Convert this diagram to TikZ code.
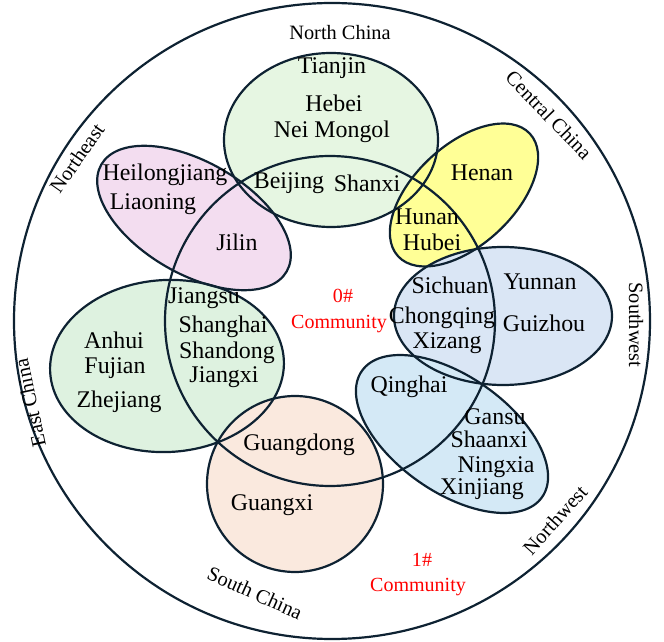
\documentclass[tikz,border=0pt]{standalone}
\usepackage{fontspec}
\setmainfont{Liberation Serif}

\definecolor{rim}{RGB}{14,34,50}
\definecolor{northfill}{RGB}{230,246,226}
\definecolor{eastfill}{RGB}{222,242,224}
\definecolor{nefill}{RGB}{243,221,240}
\definecolor{centralfill}{RGB}{255,255,150}
\definecolor{swfill}{RGB}{218,230,245}
\definecolor{nwfill}{RGB}{212,233,246}
\definecolor{southfill}{RGB}{250,233,222}

\begin{document}
\begin{tikzpicture}[
  x=0.02cm, y=-0.02cm,
  rimline/.style={
    draw=rim,
    line width=1.25pt
  },
  prov/.style={
    inner sep=0pt,
    font=\fontsize{13.6}{16}\selectfont
  },
  zonelabel/.style={
    inner sep=0pt,
    font=\fontsize{11.6}{13}\selectfont
  },
  commlabel/.style={
    inner sep=0pt,
    text=red,
    font=\fontsize{11.4}{13}\selectfont
  }
]

\path[use as bounding box] (0,0) rectangle (664,642);

% centres of the regions
\coordinate (outer) at (332,321);
\coordinate (core) at (330,321);
\coordinate (north) at (331,140);
\coordinate (northeast) at (194,218);
\coordinate (central) at (464,195);
\coordinate (southwest) at (503,316);
\coordinate (northwest) at (452,434);
\coordinate (south) at (295,484);
\coordinate (east) at (167,366);

% fills
\fill[northfill] (north) ellipse (107 and 87);
\fill[eastfill, rotate around={3:(east)}] (east) ellipse (117 and 86);
\fill[nefill, rotate around={-30:(northeast)}] (northeast) ellipse (107 and 56);
\fill[centralfill, rotate around={43:(central)}] (central) ellipse (90 and 50);
\fill[swfill] (southwest) ellipse (109 and 69);
\fill[nwfill, rotate around={-35:(northwest)}] (northwest) ellipse (110 and 58);
\fill[southfill] (south) circle (88);

% outlines
\draw[rimline] (outer) circle (318);
\draw[rimline] (north) ellipse (107 and 87);
\draw[rimline, rotate around={3:(east)}] (east) ellipse (117 and 86);
\draw[rimline, rotate around={-30:(northeast)}] (northeast) ellipse (107 and 56);
\draw[rimline, rotate around={43:(central)}] (central) ellipse (90 and 50);
\draw[rimline] (southwest) ellipse (109 and 69);
\draw[rimline, rotate around={-35:(northwest)}] (northwest) ellipse (110 and 58);
\draw[rimline] (south) circle (88);
\draw[rimline] (core) circle (165);

% provinces
\node[prov] (tianjin) at (332,68) {Tianjin};
\node[prov] (hebei) at (334,103) {Hebei};
\node[prov] (neimongol) at (332,132) {Nei Mongol};
\node[prov] (beijing) at (289,183) {Beijing};
\node[prov] (shanxi) at (367,183) {Shanxi};

\node[prov] (heilongjiang) at (165,175) {Heilongjiang};
\node[prov] (liaoning) at (153,204) {Liaoning};
\node[prov] (jilin) at (237,242) {Jilin};

\node[prov] (henan) at (482,173) {Henan};
\node[prov] (hunan) at (427,217) {Hunan};
\node[prov] (hubei) at (432,242) {Hubei};

\node[prov] (sichuan) at (450,285) {Sichuan};
\node[prov] (chongqing) at (442,318) {Chongqing};
\node[prov] (xizang) at (447,343) {Xizang};
\node[prov] (yunnan) at (540,282) {Yunnan};
\node[prov] (guizhou) at (544,323) {Guizhou};

\node[prov] (qinghai) at (409,387) {Qinghai};
\node[prov] (gansu) at (495,417) {Gansu};
\node[prov] (shaanxi) at (489,439) {Shaanxi};
\node[prov] (ningxia) at (496,467) {Ningxia};
\node[prov] (xinjiang) at (482,489) {Xinjiang};

\node[prov] (jiangsu) at (204,298) {Jiangsu};
\node[prov] (shanghai) at (223,327) {Shanghai};
\node[prov] (shandong) at (227,353) {Shandong};
\node[prov] (jiangxi) at (224,377) {Jiangxi};
\node[prov] (anhui) at (114,340) {Anhui};
\node[prov] (fujian) at (115,368) {Fujian};
\node[prov] (zhejiang) at (119,402) {Zhejiang};

\node[prov] (guangdong) at (299,445) {Guangdong};
\node[prov] (guangxi) at (272,505) {Guangxi};

% region names round the rim
\node[zonelabel] (lblnorth) at (340,33) {North China};
\node[zonelabel, rotate=55] (lblne) at (77,158) {Northeast};
\node[zonelabel, rotate=-46] (lblcentral) at (549,115) {Central China};
\node[zonelabel, rotate=-90] (lblsw) at (636,325) {Southwest};
\node[zonelabel, rotate=48] (lblnw) at (555,520) {Northwest};
\node[zonelabel, rotate=-24] (lblsouth) at (255,593) {South China};
\node[zonelabel, rotate=102] (lbleast) at (30,403) {East China};

% communities
\node[commlabel] (zero) at (343,296) {0\#};
\node[commlabel] (zerocomm) at (339,324) {Community};
\node[commlabel] (one) at (422,560) {1\#};
\node[commlabel] (onecomm) at (418,587) {Community};

\end{tikzpicture}
\end{document}
